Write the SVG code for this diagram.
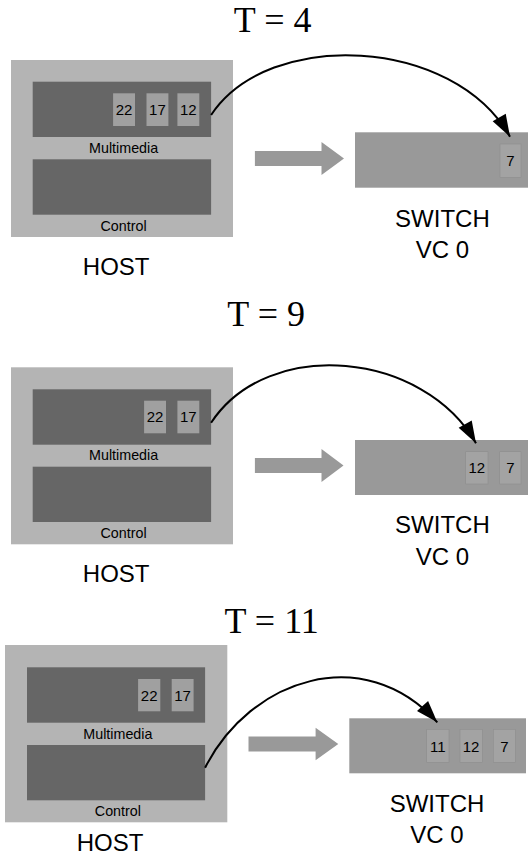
<svg xmlns="http://www.w3.org/2000/svg" width="528" height="864" viewBox="0 0 528 864">
<style>
.title{font-family:"Liberation Serif","Times New Roman",serif;font-size:36px;fill:#000;text-anchor:middle}
.big{font-family:"Liberation Sans",Arial,sans-serif;font-size:24px;fill:#000;text-anchor:middle}
.lbl{font-family:"Liberation Sans",Arial,sans-serif;font-size:14.3px;fill:#000;text-anchor:middle}
.num{font-family:"Liberation Sans",Arial,sans-serif;font-size:15px;fill:#000;text-anchor:middle}
.host{fill:#b4b4b4}
.queue{fill:#666666}
.pkt{fill:#a0a0a0}
.sw{fill:#999999}
.spkt{fill:#a3a3a3;stroke:#8e8e8e;stroke-width:0.6}
.fat{fill:#999999}
.curve{fill:none;stroke:#000;stroke-width:2}
</style>
<defs>
<marker id="ah" markerUnits="userSpaceOnUse" markerWidth="24" markerHeight="18" refX="22" refY="8" orient="auto" overflow="visible">
<path d="M0,0.5 L22,8 L0,15.5 Z" fill="#000"/>
</marker>
</defs>

<!-- Panel 1 -->
<text class="title" x="272.7" y="32">T = 4</text>
<g id="p1-host">
<rect class="host" x="11" y="60" width="222" height="177"/>
<text class="big" x="116.2" y="274.5">HOST</text>
</g>
<g id="p1-multimedia">
<rect class="queue" x="32.7" y="81.7" width="178.4" height="55.3"/>
<text class="lbl" x="123.6" y="153.3">Multimedia</text>
<rect class="pkt" x="113.1" y="93.3" width="21.9" height="32.7"/><text class="num" x="124" y="115">22</text>
<rect class="pkt" x="146.5" y="93.3" width="21.9" height="32.7"/><text class="num" x="157.4" y="115">17</text>
<rect class="pkt" x="177.4" y="93.3" width="21.9" height="32.7"/><text class="num" x="188.3" y="115">12</text>
</g>
<g id="p1-control">
<rect class="queue" x="32.7" y="159.3" width="178.4" height="55.4"/>
<text class="lbl" x="123.6" y="230.7">Control</text>
</g>
<g id="p1-switch">
<rect class="sw" x="355" y="132.3" width="173" height="55.4"/>
<rect class="spkt" x="500" y="144" width="21" height="33.3"/><text class="num" x="510.5" y="165.7">7</text>
<text class="big" x="442.4" y="226.7">SWITCH</text>
<text class="big" x="442.4" y="258.3">VC 0</text>
</g>

<!-- Panel 2 -->
<text class="title" x="266.2" y="326">T = 9</text>
<g id="p2-host">
<rect class="host" x="11" y="367.3" width="222" height="177"/>
<text class="big" x="116.2" y="581.5">HOST</text>
</g>
<g id="p2-multimedia">
<rect class="queue" x="32.7" y="389.3" width="178.4" height="55.4"/>
<text class="lbl" x="123.6" y="460.3">Multimedia</text>
<rect class="pkt" x="144.1" y="400.7" width="21.9" height="32.6"/><text class="num" x="155" y="422.3">22</text>
<rect class="pkt" x="177.4" y="400.7" width="21.9" height="32.6"/><text class="num" x="188.3" y="422.3">17</text>
</g>
<g id="p2-control">
<rect class="queue" x="32.7" y="466.7" width="178.4" height="55.3"/>
<text class="lbl" x="123.6" y="537.5">Control</text>
</g>
<g id="p2-switch">
<rect class="sw" x="355" y="440" width="173" height="55"/>
<rect class="spkt" x="465.7" y="451.7" width="22.3" height="32.3"/><text class="num" x="476.8" y="473.3">12</text>
<rect class="spkt" x="499.7" y="451.7" width="21.3" height="32.3"/><text class="num" x="510.3" y="473.3">7</text>
<text class="big" x="442.4" y="533.3">SWITCH</text>
<text class="big" x="442.4" y="565">VC 0</text>
</g>

<!-- Panel 3 -->
<text class="title" x="271.7" y="633.3">T = 11</text>
<g id="p3-host">
<rect class="host" x="5" y="645" width="222.3" height="177.3"/>
<text class="big" x="110.1" y="850.7">HOST</text>
</g>
<g id="p3-multimedia">
<rect class="queue" x="27" y="667.3" width="178.1" height="55.4"/>
<text class="lbl" x="117.9" y="739">Multimedia</text>
<rect class="pkt" x="138.1" y="679" width="22.2" height="32.3"/><text class="num" x="149.2" y="700.6">22</text>
<rect class="pkt" x="171.7" y="679" width="21.9" height="32.3"/><text class="num" x="182.6" y="700.6">17</text>
</g>
<g id="p3-control">
<rect class="queue" x="27" y="745" width="178.1" height="55.3"/>
<text class="lbl" x="117.9" y="815.5">Control</text>
</g>
<g id="p3-switch">
<rect class="sw" x="349.3" y="718.3" width="176.7" height="55"/>
<rect class="spkt" x="426.7" y="729.3" width="22.3" height="33"/><text class="num" x="437.8" y="751.5">11</text>
<rect class="spkt" x="460" y="729.3" width="22.3" height="33"/><text class="num" x="471.1" y="751.5">12</text>
<rect class="spkt" x="493.3" y="729.3" width="22" height="33"/><text class="num" x="504.3" y="751.5">7</text>
<text class="big" x="437" y="811.7">SWITCH</text>
<text class="big" x="437" y="842.7">VC 0</text>
</g>

<g id="connectors">
<polygon class="fat" points="254.9,151 321.5,151 321.5,142 344,158.5 321.5,175 321.5,166 254.9,166"/>
<polygon class="fat" points="254.9,458 321.5,458 321.5,449 343.5,465.5 321.5,482 321.5,473 254.9,473"/>
<polygon class="fat" points="248.5,736.5 315.6,736.5 315.6,727.7 338.3,744 315.6,760.3 315.6,751.5 248.5,751.5"/>
<path class="curve" marker-end="url(#ah)" d="M211.1,115 C268.75,27.85 453.65,36.65 510,136.7"/>
<path class="curve" marker-end="url(#ah)" d="M211.1,422.7 C268.75,335.55 424.55,351.95 476,443.3"/>
<path class="curve" marker-end="url(#ah)" d="M205.1,767.7 C250,678.7 363.6,640.9 437.3,722.3"/>
</g>
</svg>
